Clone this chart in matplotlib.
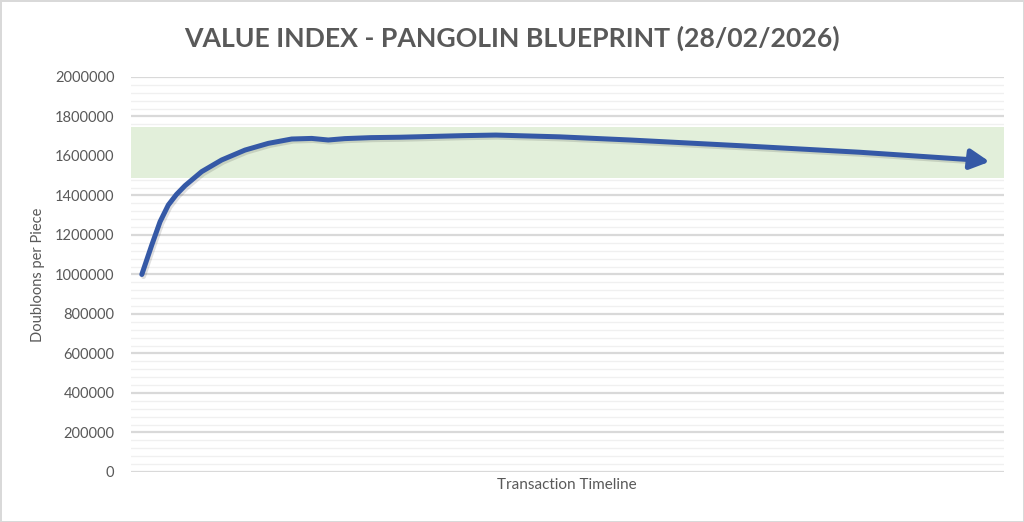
import matplotlib.pyplot as plt
import matplotlib.patheffects as pe
from matplotlib.ticker import MultipleLocator, FuncFormatter

# values (timeline position in % of the axis, doubloons per piece)
timeline = [1.23, 2.37, 3.32, 4.27, 5.2, 6.19, 8.10, 10.39, 13.06, 15.73,
            18.41, 20.70, 22.60, 24.5, 27.5, 30.8, 38.0, 41.8, 49.1, 57.2,
            70.3, 83.5, 96.7, 98.4]
price = [1000000, 1149000, 1267000, 1352000, 1405000, 1450000, 1521000,
         1580000, 1630000, 1664000, 1686000, 1689000, 1681000, 1688000,
         1693000, 1695000, 1703000, 1706000, 1697000, 1681000, 1651000,
         1619000, 1580000, 1571000]
band_low = 1490000
band_high = 1747000

title = "VALUE INDEX - PANGOLIN BLUEPRINT (28/02/2026)"
x_label = "Transaction Timeline"
y_label = "Doubloons per Piece"

line_color = "#3559A6"
text_color = "#595959"
font = ["Lato", "DejaVu Sans"]

fig = plt.figure(figsize=(10.24, 5.22), dpi=100)
fig.patch.set_edgecolor("#D9D9D9")
fig.patch.set_linewidth(2)
ax = fig.add_axes([0.128, 0.0958, 0.852, 0.7567])

ax.axhspan(band_low, band_high, color="#E2EFDA", zorder=1, lw=0)

shadow = [pe.SimpleLineShadow(offset=(1.2, -1.5), alpha=0.12), pe.Normal()]
ax.plot(timeline[:-1], price[:-1], color=line_color, lw=3.6,
        solid_capstyle="round", solid_joinstyle="round", zorder=3,
        path_effects=shadow)
# arrow head at the end of the line
ax.annotate("", xy=(timeline[-1], price[-1]), xytext=(timeline[-2], price[-2]),
            arrowprops=dict(arrowstyle="-|>,head_length=1.15,head_width=0.6",
                            color=line_color, lw=3.6, shrinkA=0, shrinkB=0),
            zorder=3)

ax.set_xlim(0, 100)
ax.set_ylim(0, 2000000)
ax.yaxis.set_major_locator(MultipleLocator(200000))
ax.yaxis.set_minor_locator(MultipleLocator(40000))
ax.yaxis.set_major_formatter(FuncFormatter(lambda v, pos: "%d" % v))
ax.set_axisbelow(True)
ax.grid(which="major", axis="y", color="#D9D9D9", lw=1.6)
ax.grid(which="minor", axis="y", color="#F0F0F0", lw=1.0)
ax.set_xticks([])
for s in ax.spines.values():
    s.set_visible(False)
ax.tick_params(axis="y", which="both", length=0, pad=12, labelcolor=text_color,
               labelsize=10.5)
for lab in ax.get_yticklabels():
    lab.set_family(font)

ax.set_xlabel(x_label, color=text_color, fontsize=11, family=font, labelpad=4)
ax.set_ylabel(y_label, color=text_color, fontsize=10.5, family=font, labelpad=7)

fig.text(0.5, 0.927, title, ha="center", va="center", fontsize=19.2,
         fontweight="bold", color=text_color, family=font)

plt.savefig("out.png", dpi=100)
